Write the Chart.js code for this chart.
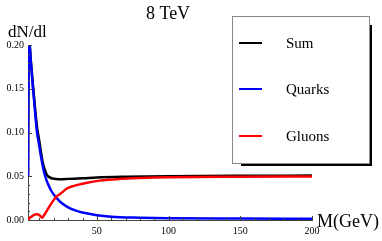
<!DOCTYPE html>
<html>
<head>
<meta charset="utf-8">
<script src="https://cdn.jsdelivr.net/npm/chart.js@4"></script>
<style>
  html, body { margin: 0; padding: 0; background: #fff; }
  #wrap { width: 382px; height: 241px; }
</style>
</head>
<body>
<div id="wrap"><canvas id="chart" width="382" height="241"></canvas></div>
<script>
// Data (M in GeV, dN/dl)
const title = '8 TeV';
const yTitle = 'dN/dl';
const xTitle = 'M(GeV)';
const seriesNames = ['Sum', 'Quarks', 'Gluons'];
const seriesColors = ['#000000', '#0000ff', '#ff0000'];

const sumM = [2.0, 2.4, 2.8, 3.2, 4.0, 5.5, 7.0, 8.3, 9.5, 11, 12, 13, 14, 15, 16, 18, 20, 23, 26, 30, 40, 50, 70, 100, 150, 200];
const sumY = [0.05, 0.19, 0.20, 0.199, 0.182, 0.153, 0.127, 0.106, 0.094, 0.078, 0.068, 0.061, 0.056, 0.052, 0.050, 0.048, 0.0472, 0.0467, 0.0467, 0.0470, 0.0477, 0.0486, 0.0494, 0.0500, 0.0505, 0.0508];

const quarkM = [2.0, 2.4, 2.8, 3.2, 4.0, 5.5, 7.0, 8.3, 9.5, 11, 12, 13, 14, 15, 16, 18, 20, 22, 25, 30, 35, 40, 50, 60, 80, 100, 150, 200];
const quarkY = [0.05, 0.19, 0.20, 0.198, 0.180, 0.150, 0.122, 0.100, 0.088, 0.073, 0.064, 0.056, 0.050, 0.045, 0.041, 0.034, 0.029, 0.025, 0.020, 0.0145, 0.011, 0.0085, 0.0055, 0.0038, 0.0027, 0.0021, 0.0016, 0.0013];

const gluonM = [2.0, 3, 4.5, 6, 8, 9.5, 10.8, 11.8, 13, 15.3, 17.5, 20, 22, 24.6, 29.2, 34, 40, 52, 66, 80, 100, 150, 200];
const gluonY = [0.0, 0.002, 0.004, 0.0057, 0.0065, 0.0062, 0.0042, 0.0028, 0.005, 0.011, 0.017, 0.023, 0.027, 0.030, 0.036, 0.039, 0.0415, 0.045, 0.047, 0.0480, 0.0488, 0.0494, 0.0497];

const xTicks = [50, 100, 150, 200];
const yTicks = [0, 0.05, 0.10, 0.15, 0.20];

const serif = "'Liberation Serif', 'Times New Roman', serif";

function pts(xs, ys) {
    return xs.map((x, i) => ({ x: x, y: ys[i] }));
}

// Mathematica-style inward ticks, titles and shadowed legend
const decorations = {
    id: 'decorations',
    afterDatasetsDraw(chart) {
        const ctx = chart.ctx;
        const xs = chart.scales.x;
        const ys = chart.scales.y;
        const area = chart.chartArea;
        ctx.save();
        ctx.strokeStyle = '#444';
        ctx.lineWidth = 1;
        // x ticks
        for (let v = 10; v <= 200; v += 10) {
            const px = Math.round(xs.getPixelForValue(v)) + 0.5;
            const len = v % 50 === 0 ? 4 : 2;
            ctx.beginPath();
            ctx.moveTo(px, area.bottom);
            ctx.lineTo(px, area.bottom - len);
            ctx.stroke();
        }
        // y ticks
        for (let i = 1; i <= 20; i++) {
            const v = i / 100;
            const py = Math.round(ys.getPixelForValue(v)) + 0.5;
            const len = i % 5 === 0 ? 4 : 2;
            ctx.beginPath();
            ctx.moveTo(area.left, py);
            ctx.lineTo(area.left + len, py);
            ctx.stroke();
        }
        ctx.restore();
    },
    afterDraw(chart) {
        const ctx = chart.ctx;
        ctx.save();
        ctx.fillStyle = '#000';
        ctx.font = '18px ' + serif;
        ctx.textAlign = 'center';
        ctx.textBaseline = 'alphabetic';
        ctx.fillText(title, 168, 19);
        ctx.textAlign = 'left';
        ctx.font = '17px ' + serif;
        ctx.fillText(yTitle, 8, 37);
        ctx.font = '18px ' + serif;
        ctx.fillText(xTitle, 317, 227);

        // legend box with drop shadow
        const bx = 232, by = 16, bw = 137, bh = 147;
        ctx.fillStyle = '#000';
        ctx.fillRect(bx + 9, by + 9, bw - 6, bh - 6);
        ctx.fillStyle = '#fff';
        ctx.fillRect(bx, by, bw, bh);
        ctx.strokeStyle = '#888';
        ctx.lineWidth = 1;
        ctx.strokeRect(bx + 0.5, by + 0.5, bw, bh);

        const rows = [43, 89, 136];
        ctx.font = '15px ' + serif;
        ctx.textBaseline = 'middle';
        chart.data.datasets.forEach((ds, i) => {
            ctx.strokeStyle = ds.borderColor;
            ctx.lineWidth = 2;
            ctx.beginPath();
            ctx.moveTo(239, rows[i]);
            ctx.lineTo(262, rows[i]);
            ctx.stroke();
            ctx.fillStyle = '#000';
            ctx.fillText(ds.label, 286, rows[i] + 1);
        });
        ctx.restore();
    }
};

const lineStyle = { borderWidth: 2.5, pointRadius: 0, fill: false, cubicInterpolationMode: 'monotone' };

new Chart(document.getElementById('chart').getContext('2d'), {
    type: 'line',
    data: {
        datasets: [
            // higher order is drawn underneath: black, then blue, red on top
            Object.assign({ label: seriesNames[0], data: pts(sumM, sumY), borderColor: seriesColors[0], order: 3 }, lineStyle),
            Object.assign({ label: seriesNames[1], data: pts(quarkM, quarkY), borderColor: seriesColors[1], order: 2 }, lineStyle),
            Object.assign({ label: seriesNames[2], data: pts(gluonM, gluonY), borderColor: seriesColors[2], order: 1 }, lineStyle)
        ]
    },
    options: {
        responsive: false,
        animation: false,
        layout: { padding: { top: 45, right: 70, left: 0, bottom: 0 } },
        plugins: {
            legend: { display: false },
            tooltip: { enabled: false }
        },
        scales: {
            x: {
                type: 'linear',
                min: 2,
                max: 200,
                afterBuildTicks: s => { s.ticks = xTicks.map(v => ({ value: v })); },
                afterFit: s => { s.height = 21; },
                grid: { display: false, drawTicks: false },
                border: { display: true, color: '#444', width: 1 },
                ticks: {
                    color: '#000',
                    font: { family: serif, size: 10 },
                    padding: 5,
                    maxRotation: 0,
                    autoSkip: false
                }
            },
            y: {
                min: 0,
                max: 0.2,
                afterBuildTicks: s => { s.ticks = yTicks.map(v => ({ value: v })); },
                afterFit: s => { s.width = 28; },
                grid: { display: false, drawTicks: false },
                border: { display: true, color: '#444', width: 1 },
                ticks: {
                    color: '#000',
                    font: { family: serif, size: 10 },
                    padding: 4,
                    autoSkip: false,
                    callback: v => v.toFixed(2)
                }
            }
        }
    },
    plugins: [decorations]
});
</script>
</body>
</html>
